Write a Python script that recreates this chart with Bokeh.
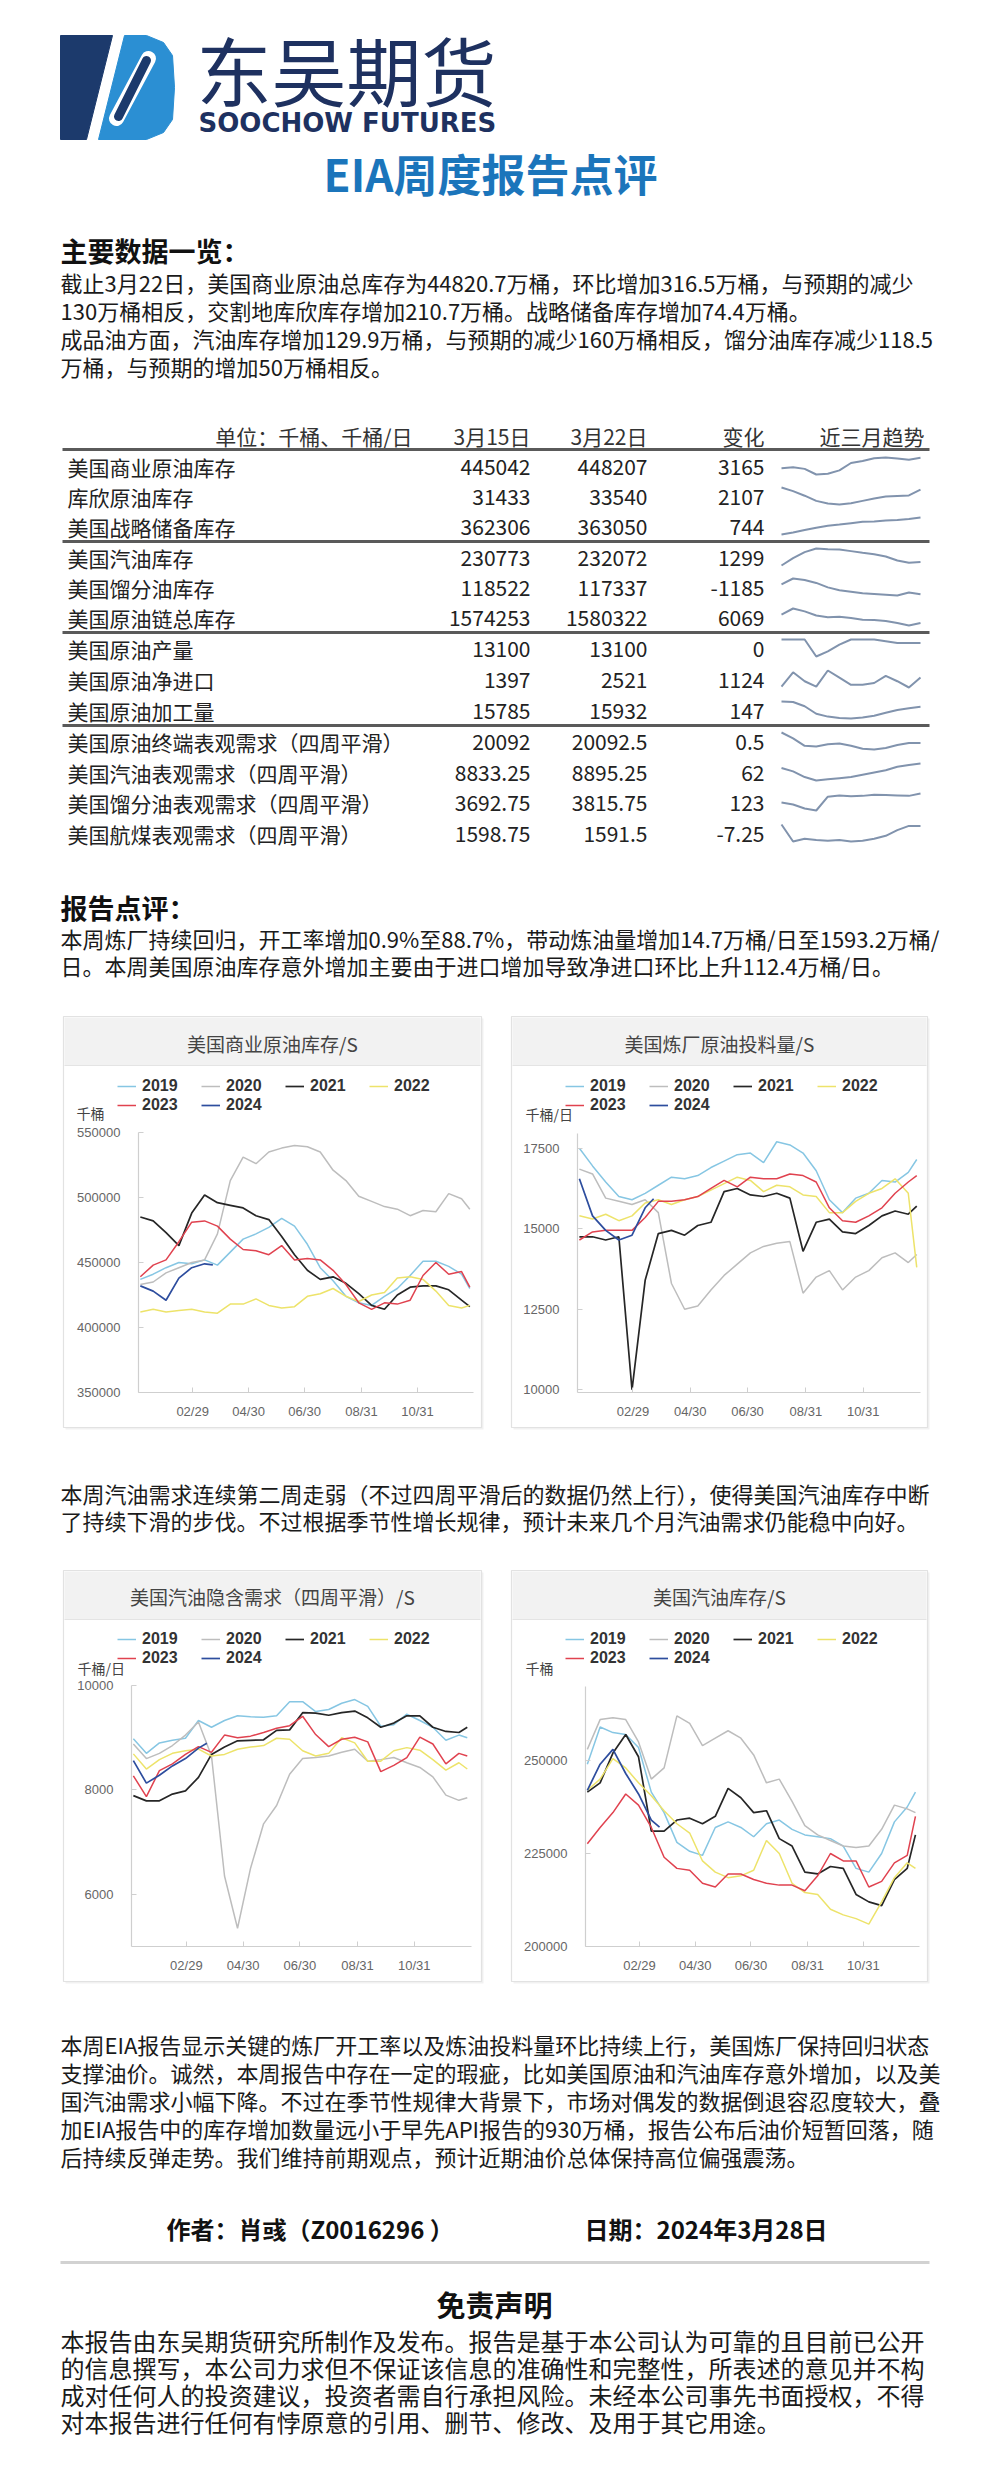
from bokeh.plotting import figure
from bokeh.models import Range1d, LinearAxis, FixedTicker, Legend, LegendItem, BasicTickFormatter
from bokeh.core.properties import value
from bokeh.embed import file_html
from bokeh.resources import INLINE

W, H = 981, 2481
CJK = "Noto Sans CJK SC"
LAT = "Liberation Sans"

# ---------------- texts ----------------
intro_lines = [
    "截止3月22日，美国商业原油总库存为44820.7万桶，环比增加316.5万桶，与预期的减少",
    "130万桶相反，交割地库欣库存增加210.7万桶。战略储备库存增加74.4万桶。",
    "成品油方面，汽油库存增加129.9万桶，与预期的减少160万桶相反，馏分油库存减少118.5",
    "万桶，与预期的增加50万桶相反。",
]
review_lines = [
    "本周炼厂持续回归，开工率增加0.9%至88.7%，带动炼油量增加14.7万桶/日至1593.2万桶/",
    "日。本周美国原油库存意外增加主要由于进口增加导致净进口环比上升112.4万桶/日。",
]
mid_lines = [
    "本周汽油需求连续第二周走弱（不过四周平滑后的数据仍然上行），使得美国汽油库存中断",
    "了持续下滑的步伐。不过根据季节性增长规律，预计未来几个月汽油需求仍能稳中向好。",
]
final_lines = [
    "本周EIA报告显示关键的炼厂开工率以及炼油投料量环比持续上行，美国炼厂保持回归状态",
    "支撑油价。诚然，本周报告中存在一定的瑕疵，比如美国原油和汽油库存意外增加，以及美",
    "国汽油需求小幅下降。不过在季节性规律大背景下，市场对偶发的数据倒退容忍度较大，叠",
    "加EIA报告中的库存增加数量远小于早先API报告的930万桶，报告公布后油价短暂回落，随",
    "后持续反弹走势。我们维持前期观点，预计近期油价总体保持高位偏强震荡。",
]
disclaimer_lines = [
    "本报告由东吴期货研究所制作及发布。报告是基于本公司认为可靠的且目前已公开",
    "的信息撰写，本公司力求但不保证该信息的准确性和完整性，所表述的意见并不构",
    "成对任何人的投资建议，投资者需自行承担风险。未经本公司事先书面授权，不得",
    "对本报告进行任何有悖原意的引用、删节、修改、及用于其它用途。",
]

# ---------------- table ----------------
table_header = ["单位：千桶、千桶/日", "3月15日", "3月22日", "变化", "近三月趋势"]
row_labels = ["美国商业原油库存", "库欣原油库存", "美国战略储备库存", "美国汽油库存", "美国馏分油库存",
              "美国原油链总库存", "美国原油产量", "美国原油净进口", "美国原油加工量",
              "美国原油终端表观需求（四周平滑）", "美国汽油表观需求（四周平滑）",
              "美国馏分油表观需求（四周平滑）", "美国航煤表观需求（四周平滑）"]
val_mar15 = ["445042", "31433", "362306", "230773", "118522", "1574253", "13100", "1397", "15785",
             "20092", "8833.25", "3692.75", "1598.75"]
val_mar22 = ["448207", "33540", "363050", "232072", "117337", "1580322", "13100", "2521", "15932",
             "20092.5", "8895.25", "3815.75", "1591.5"]
val_change = ["3165", "2107", "744", "1299", "-1185", "6069", "0", "1124", "147", "0.5", "62", "123", "-7.25"]

spark_commercial = [431.1, 432.4, 429.9, 420.7, 421.9, 427.4, 439.5, 442.9, 447.2, 448.5, 447.0, 445.0, 448.2]
spark_cushing = [34.2, 33.0, 31.5, 29.8, 28.9, 28.6, 29.0, 29.8, 30.6, 31.2, 31.4, 31.6, 33.5]
spark_spr = [354.4, 355.4, 356.7, 357.9, 358.9, 359.5, 360.2, 360.9, 361.1, 361.6, 361.8, 362.3, 363.1]
spark_gasoline = [227.0, 237.3, 245.9, 251.0, 250.0, 249.5, 247.3, 245.0, 243.0, 239.7, 234.1, 230.8, 232.1]
spark_distillate = [124.0, 128.0, 127.0, 125.0, 122.0, 120.0, 119.0, 118.0, 117.5, 117.0, 116.5, 118.5, 117.3]
spark_chain = [1600, 1615, 1608, 1598, 1594, 1595, 1592, 1588, 1587, 1585, 1580, 1574, 1580]
spark_production = [13300, 13300, 13300, 12300, 12600, 13000, 13300, 13300, 13300, 13200, 13100, 13100, 13100]
spark_imports = [1500, 3100, 2100, 1500, 3300, 2500, 1700, 1700, 1900, 2700, 2100, 1397, 2521]
spark_runs = [16500, 16450, 16000, 15200, 14900, 14750, 14700, 14800, 15000, 15300, 15600, 15785, 15932]
spark_total_demand = [20800, 20400, 19900, 19850, 20000, 20050, 19900, 19700, 19650, 19750, 19950, 20092, 20092.5]
spark_gas_demand = [8700, 8550, 8300, 8150, 8200, 8250, 8300, 8400, 8500, 8600, 8750, 8833, 8895]
spark_dist_demand = [3700, 3650, 3550, 3500, 3850, 3880, 3860, 3870, 3900, 3890, 3880, 3870, 3930]
spark_jet_demand = [1700, 1580, 1600, 1590, 1585, 1590, 1580, 1585, 1600, 1620, 1660, 1690, 1690]
sparks = [spark_commercial, spark_cushing, spark_spr, spark_gasoline, spark_distillate, spark_chain,
          spark_production, spark_imports, spark_runs, spark_total_demand, spark_gas_demand,
          spark_dist_demand, spark_jet_demand]

# ---------------- seasonal charts ----------------
years = ["2019", "2020", "2021", "2022", "2023", "2024"]
year_colors = ["#86c6e3", "#bdbdbd", "#262626", "#ede36a", "#e0424f", "#2d4d9e"]
days = [3, 17, 31, 45, 59, 73, 87, 101, 115, 129, 143, 157, 171, 185, 199, 213, 227, 241, 255,
        269, 283, 297, 311, 325, 339, 353, 362]
days_2024 = [3, 17, 31, 45, 59, 73, 82]
x_tick_days = [60, 121, 182, 244, 305]
x_tick_labels = ["02/29", "04/30", "06/30", "08/31", "10/31"]

crude_2019 = [437000, 441000, 446000, 450000, 449000, 452000, 448000, 458000, 468000, 472000, 477000, 484000, 478000,
              464000, 446000, 436000, 424000, 419000, 417000, 424000, 430000, 440000, 451000, 451000, 447000, 441000, 430000]
crude_2020 = [433000, 435000, 442000, 446000, 450000, 452000, 472000, 513000, 531000, 526000, 535000, 538000, 540000,
              539000, 535000, 521000, 513000, 501000, 497000, 493000, 491000, 486000, 490000, 489000, 503000, 499000, 491000]
crude_2021 = [485000, 482000, 473000, 463000, 488000, 502000, 496000, 494000, 492000, 486000, 483000, 470000, 456000,
              444000, 437000, 439000, 434000, 426000, 417000, 414000, 425000, 431000, 432000, 432000, 429000, 421000, 416000]
crude_2022 = [412000, 414000, 412000, 413000, 414000, 412000, 411000, 418000, 418000, 422000, 417000, 415000, 416000,
              424000, 426000, 430000, 424000, 420000, 425000, 427000, 438000, 439000, 437000, 428000, 417000, 415000, 417000]
crude_2023 = [439000, 448000, 452000, 466000, 481000, 482000, 478000, 468000, 460000, 459000, 456000, 463000, 452000,
              453000, 452000, 444000, 433000, 419000, 414000, 419000, 418000, 421000, 440000, 450000, 441000, 443000, 431000]
crude_2024 = [432000, 428000, 421000, 438000, 446000, 449000, 448207]

runs_2019 = [17500, 16950, 16450, 16000, 15900, 16100, 16350, 16600, 16550, 16650, 16900, 17100, 17300, 17350,
             17050, 17700, 17600, 17350, 16800, 15900, 15500, 15950, 16100, 16500, 16450, 16750, 17150]
runs_2020 = [16850, 16700, 15950, 15850, 15750, 15900, 15500, 13300, 12500, 12600, 13100, 13550, 13900, 14250,
             14450, 14550, 14600, 13000, 13500, 13700, 13100, 13500, 13700, 14100, 14250, 13950, 14200]
runs_2021 = [14750, 14750, 14650, 14750, 10000, 13400, 14850, 14950, 14800, 15100, 15200, 16150, 16250, 16050,
             16000, 16100, 15950, 14300, 15200, 15300, 14900, 14850, 15100, 15400, 15550, 15450, 15700]
runs_2022 = [15400, 15300, 15450, 15250, 15400, 15800, 15900, 15750, 15900, 16000, 16200, 16400, 16600, 16500,
             16150, 16350, 16300, 16050, 16000, 15500, 15500, 15850, 16100, 16250, 16550, 16100, 13800]
runs_2023 = [14650, 14900, 14950, 14950, 14950, 15350, 15850, 15850, 15900, 16000, 16250, 16500, 16300, 16600,
             16550, 16550, 16700, 16650, 16450, 15650, 15250, 15200, 15400, 15650, 16100, 16450, 16650]
runs_2024 = [16550, 15400, 14950, 14650, 14800, 15650, 15932]

gdem_2019 = [8980, 8700, 8900, 8950, 8990, 9330, 9200, 9330, 9420, 9400, 9390, 9420, 9690, 9690, 9500, 9540,
             9660, 9730, 9600, 9220, 9250, 9450, 9330, 9200, 8950, 9050, 9000]
gdem_2020 = [8880, 8600, 8700, 8850, 9050, 9300, 8650, 6350, 5350, 6500, 7350, 7700, 8300, 8600, 8620, 8650,
             8720, 8780, 8550, 8580, 8620, 8520, 8430, 8250, 7900, 7800, 7850]
gdem_2021 = [7890, 7790, 7790, 7920, 7980, 8240, 8680, 8820, 8940, 8950, 8960, 9140, 9150, 9480, 9470, 9430,
             9480, 9510, 9380, 9200, 9280, 9420, 9420, 9200, 9120, 9100, 9200]
gdem_2022 = [8690, 8400, 8580, 8700, 8750, 8780, 8650, 8680, 8780, 8820, 8850, 8990, 8970, 8750, 8650, 8700,
             9000, 8900, 8550, 8550, 8750, 8810, 8760, 8580, 8380, 8520, 8400]
gdem_2023 = [8270, 7870, 8370, 8500, 8680, 8830, 8720, 9050, 9000, 9030, 9100, 9180, 9230, 9410, 9060, 8830,
             8970, 9010, 8920, 8350, 8470, 8620, 9010, 8880, 8500, 8700, 8650]
gdem_2024 = [8560, 8130, 8280, 8460, 8600, 8800, 8895]

ginv_2019 = [249000, 259000, 257500, 257000, 253500, 241500, 236000, 228000, 225600, 224500, 232000, 233500, 232000,
             229500, 233000, 234000, 231500, 230000, 229500, 229000, 227000, 221000, 220000, 225000, 233500, 237500, 241500]
ginv_2020 = [253000, 261000, 261500, 261000, 255000, 245000, 248000, 262000, 260000, 254000, 256000, 258000, 256000,
             251500, 244000, 245000, 239000, 232500, 230000, 228500, 227000, 226600, 227000, 231500, 238000, 237000, 236000]
ginv_2021 = [241500, 244000, 252000, 257000, 251000, 231000, 231000, 234000, 234500, 233000, 235000, 242500, 240000,
             236000, 236500, 229000, 227000, 220000, 219500, 221500, 221000, 214000, 212000, 211000, 218000, 221000, 230000]
ginv_2022 = [242000, 245000, 250500, 248000, 244000, 240500, 236500, 233000, 230500, 223000, 220000, 218500, 219000,
             220500, 228500, 225000, 217000, 214500, 214000, 210000, 208500, 207500, 206000, 212000, 218500, 222500, 221000]
ginv_2023 = [227600, 232000, 236000, 241000, 238000, 232000, 224000, 221000, 220500, 217000, 216000, 219500, 219500,
             218000, 217000, 216500, 216500, 215000, 219000, 225000, 223000, 223000, 216000, 217500, 222500, 224500, 235000]
ginv_2024 = [242000, 249000, 253000, 246500, 241000, 234000, 232072]

chart_titles = ["美国商业原油库存/S", "美国炼厂原油投料量/S", "美国汽油隐含需求（四周平滑）/S", "美国汽油库存/S"]
chart_units = ["千桶", "千桶/日", "千桶/日", "千桶"]
chart_series = [
    [crude_2019, crude_2020, crude_2021, crude_2022, crude_2023, crude_2024],
    [runs_2019, runs_2020, runs_2021, runs_2022, runs_2023, runs_2024],
    [gdem_2019, gdem_2020, gdem_2021, gdem_2022, gdem_2023, gdem_2024],
    [ginv_2019, ginv_2020, ginv_2021, ginv_2022, ginv_2023, ginv_2024],
]
chart_yticks = [[350000, 400000, 450000, 500000, 550000], [10000, 12500, 15000, 17500],
                [6000, 8000, 10000], [200000, 225000, 250000]]
chart_ylims = [(350000, 550000), (9916, 17956), (5000, 10000), (200000, 270000)]

# ---------------- page ----------------
p = figure(width=W, height=H, x_range=Range1d(0, W), y_range=Range1d(H, 0),
           output_backend="svg", toolbar_location=None, min_border=0,
           x_axis_type=None, y_axis_type=None, outline_line_color=None,
           background_fill_color="white", border_fill_color="white")


def add_text(xs, ys, texts, size, color="#1a1a1a", align="left", bold=False, font=CJK, baseline="middle"):
    p.text(x=xs, y=ys, text=texts, text_font=value(font), text_font_size=f"{size}px",
           text_color=color, text_align=align, text_baseline=baseline,
           text_font_style="bold" if bold else "normal")


def x_range_px(d0, p0, d1, p1):
    s = (d1 - d0) / (p1 - p0)
    return Range1d(d0 - p0 * s, d0 + (W - p0) * s)


def y_range_px(v0, p0, v1, p1):
    s = (v1 - v0) / (p0 - p1)
    return Range1d(v0 - (H - p0) * s, v0 + p0 * s)


# logo
navy, lblue = "#1c3a6c", "#2b8fd3"
p.patch([60, 112, 86, 60], [35, 35, 139, 139], color=navy)
p.patch([124, 146, 163, 172, 174, 172, 163, 146, 98],
        [35, 35, 42, 55, 87, 119, 132, 139, 139], color=lblue)
p.line([148, 116], [58, 118], line_width=15, line_color="white", line_cap="round")
p.line([146, 118], [60, 116], line_width=9, line_color=navy, line_cap="round")
add_text([196], [68], ["东吴期货"], 75, color="#1e3160")
add_text([198], [122], ["SOOCHOW FUTURES"], 26, color="#1e3160", bold=True, font="DejaVu Sans")
add_text([490], [172], ["EIA周度报告点评"], 44, color="#1b75bb", align="center", bold=True)

# intro
add_text([60], [250], ["主要数据一览："], 27, bold=True, color="#111111")
add_text([60] * 4, [281, 309, 337, 365], intro_lines, 22)

# table
header_y = 435
rows_y = [466, 496, 526, 557, 587, 617, 648, 679, 710, 741, 772, 802, 833]
rules_y = [449, 541, 632, 725]
col_right = [530, 647, 764]
add_text([412, 530, 647, 764, 924], [header_y] * 5, table_header, 21, color="#333333", align="right")
p.segment(x0=[62] * 4, x1=[929] * 4, y0=rules_y, y1=rules_y, line_width=3, line_color="#5a5a5a")
add_text([67] * 13, rows_y, row_labels, 21, color="#222222")
add_text([col_right[0]] * 13, rows_y, val_mar15, 21, color="#222222", align="right")
add_text([col_right[1]] * 13, rows_y, val_mar22, 21, color="#222222", align="right")
add_text([col_right[2]] * 13, rows_y, val_change, 21, color="#222222", align="right")
p.extra_x_ranges["spark_x"] = x_range_px(0, 781, 12, 920)
for k, vals in enumerate(sparks):
    nm = f"spark_y{k}"
    p.extra_y_ranges[nm] = y_range_px(min(vals), rows_y[k] + 8, max(vals), rows_y[k] - 9)
    p.line(list(range(len(vals))), vals, x_range_name="spark_x", y_range_name=nm,
           line_color="#8193ad", line_width=2)

# review
add_text([60], [907], ["报告点评："], 27, bold=True, color="#111111")
add_text([60] * 2, [937, 964], review_lines, 22)

# charts
cards = [(63, 481, 1016, 1427, 1065, 1043), (511, 927, 1016, 1427, 1065, 1043),
         (63, 481, 1570, 1981, 1619, 1596), (511, 927, 1570, 1981, 1619, 1596)]
plot_x = [(138, 473), (577, 920), (131, 470.5), (585, 918.6)]
plot_y = [(350000, 1392, 550000, 1132), (10000, 1389.3, 17500, 1147.7),
          (5000, 1946, 10000, 1685), (200000, 1946, 250000, 1760)]
axis_y_px = [1392, 1392, 1946, 1946]
unit_xy = [(76, 1112), (525, 1113), (77, 1667), (525, 1667)]
legend_x = [117, 565, 117, 565]
legend_rows = [(1086, 1105), (1086, 1105), (1639, 1658), (1639, 1658)]

for i in range(4):
    l, r, t, b, hb, ty = cards[i]
    p.quad(left=[l + 2], right=[r + 2], top=[t + 2], bottom=[b + 2], fill_color="#f1f1f1", line_color=None)
    p.quad(left=[l], right=[r], top=[t], bottom=[b], fill_color="white", line_color="#e2e2e2", line_width=1.2)
    p.quad(left=[l + 1], right=[r - 1], top=[t + 1], bottom=[hb], fill_color="#f2f2f2", line_color=None)
    p.segment(x0=[l + 1], x1=[r - 1], y0=[hb], y1=[hb], line_color="#e4e4e4", line_width=1)
    add_text([(l + r) / 2], [ty], [chart_titles[i]], 19, color="#444444", align="center")
    add_text([unit_xy[i][0]], [unit_xy[i][1]], [chart_units[i]], 14, color="#444444")

    xn, yn = f"c{i}x", f"c{i}y"
    p.extra_x_ranges[xn] = x_range_px(1, plot_x[i][0], 366, plot_x[i][1])
    v0, p0, v1, p1 = plot_y[i]
    p.extra_y_ranges[yn] = y_range_px(v0, p0, v1, p1)

    renderers = []
    for j, vals in enumerate(chart_series[i]):
        xs = days_2024 if j == 5 else days
        rr = p.line(xs, vals, x_range_name=xn, y_range_name=yn, line_color=year_colors[j],
                    line_width=1.7 if j in (2, 5) else 1.5)
        renderers.append(rr)

    yax = LinearAxis(y_range_name=yn, fixed_location=plot_x[i][0], bounds=chart_ylims[i],
                     ticker=FixedTicker(ticks=chart_yticks[i]),
                     formatter=BasicTickFormatter(use_scientific=False))
    xax = LinearAxis(x_range_name=xn, fixed_location=axis_y_px[i], bounds=(1, 366),
                     ticker=FixedTicker(ticks=x_tick_days),
                     major_label_overrides=dict(zip(x_tick_days, x_tick_labels)))
    for ax in (yax, xax):
        ax.axis_line_color = "#cfcfcf"
        ax.axis_line_width = 1.2
        ax.major_tick_line_color = "#cfcfcf"
        ax.major_tick_in = 5
        ax.major_tick_out = 0
        ax.minor_tick_in = 0
        ax.minor_tick_out = 0
        ax.major_label_text_font = LAT
        ax.major_label_text_font_size = "13px"
        ax.major_label_text_color = "#666666"
    yax.major_label_standoff = 18
    yax.major_label_text_baseline = "bottom"
    xax.major_label_standoff = 11
    p.add_layout(yax, "left")
    p.add_layout(xax, "below")

    for row, (a, bb) in enumerate([(0, 4), (4, 6)]):
        items = [LegendItem(label=years[j], renderers=[renderers[j]]) for j in range(a, bb)]
        lg = Legend(items=items, location=(legend_x[i], H - (legend_rows[i][row] + 9)),
                    orientation="horizontal", padding=0, margin=0, spacing=23,
                    glyph_width=19, glyph_height=18, label_height=18, label_width=36,
                    label_standoff=6, border_line_color=None, background_fill_alpha=0,
                    label_text_font=LAT, label_text_font_style="bold",
                    label_text_font_size="16px", label_text_color="#333333")
        p.add_layout(lg)

# mid text
add_text([60] * 2, [1492, 1519], mid_lines, 22)

# final text
add_text([60] * 5, [2043, 2071, 2099, 2127, 2155], final_lines, 22)
add_text([166], [2228], ["作者：肖彧（Z0016296 ）"], 24, bold=True, color="#111111")
add_text([584], [2228], ["日期：2024年3月28日"], 24, bold=True, color="#111111")

# disclaimer
p.segment(x0=[60], x1=[929], y0=[2262], y1=[2262], line_color="#d2d2d2", line_width=3)
add_text([494], [2303], ["免责声明"], 29, bold=True, color="#111111", align="center")
add_text([60] * 4, [2340, 2367, 2394, 2421], disclaimer_lines, 24)

open("out.html", "w").write(file_html(p, INLINE))
